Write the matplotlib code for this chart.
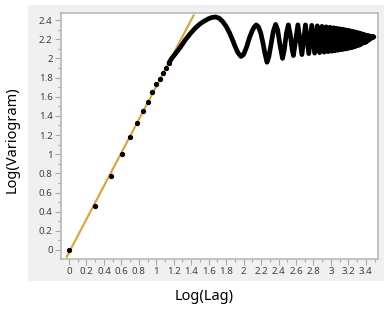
import numpy as np
import matplotlib.pyplot as plt
from matplotlib.patches import Rectangle
from matplotlib.ticker import MultipleLocator, FuncFormatter

plt.rcParams['font.family'] = ['Noto Sans', 'DejaVu Sans']

# first lags (1..14) shown as single dots
lags = [1, 2, 3, 4, 5, 6, 7, 8, 9, 10, 11, 12, 13, 14]
lag_logvar = [0.0, 0.46, 0.77, 1.0, 1.18, 1.33, 1.45, 1.55, 1.645, 1.73, 1.79,
              1.85, 1.905, 1.955]

# dense part of the log-variogram
curve_x = [1.146, 1.176, 1.22, 1.27, 1.33, 1.39, 1.45, 1.50, 1.55, 1.60, 1.64,
           1.68, 1.72, 1.76, 1.80, 1.84, 1.875, 1.905, 1.935, 1.97,
           2.00, 2.035, 2.065, 2.095, 2.12, 2.145, 2.17, 2.195, 2.22, 2.245,
           2.268, 2.29, 2.315, 2.34, 2.367, 2.39, 2.415, 2.446, 2.465, 2.49,
           2.513, 2.535, 2.555, 2.571,
           2.622, 2.668, 2.709, 2.747, 2.781, 2.814, 2.844, 2.872, 2.898,
           2.923, 2.946, 2.969, 2.990, 3.010, 3.029, 3.048, 3.065, 3.082,
           3.099, 3.115, 3.130, 3.145, 3.159, 3.173, 3.186, 3.199, 3.212,
           3.224, 3.236, 3.247, 3.259, 3.270, 3.280, 3.291, 3.301, 3.311,
           3.321, 3.330, 3.340, 3.349, 3.358, 3.366, 3.375, 3.384, 3.392,
           3.400, 3.408, 3.416, 3.423, 3.431, 3.438, 3.446, 3.453, 3.460,
           3.467, 3.474, 3.480, 3.487, 3.493]
curve_y = [1.955, 2.00, 2.05, 2.11, 2.19, 2.26, 2.32, 2.36, 2.39, 2.415, 2.428,
           2.432, 2.42, 2.385, 2.335, 2.265, 2.19, 2.12, 2.06, 2.02,
           2.04, 2.12, 2.21, 2.28, 2.325, 2.35, 2.33, 2.27, 2.17, 2.05,
           1.96, 2.02, 2.15, 2.28, 2.355, 2.30, 2.15, 2.00, 2.08, 2.26,
           2.35, 2.25, 2.10, 2.03,
           2.35, 2.04, 2.35, 2.05, 2.345, 2.055, 2.34, 2.06, 2.335,
           2.065, 2.33, 2.07, 2.325, 2.075, 2.32, 2.08, 2.315, 2.085,
           2.31, 2.09, 2.305, 2.095, 2.30, 2.10, 2.295, 2.105, 2.29,
           2.11, 2.285, 2.115, 2.28, 2.12, 2.275, 2.13, 2.27, 2.135,
           2.265, 2.14, 2.26, 2.15, 2.255, 2.16, 2.25, 2.165, 2.245,
           2.17, 2.24, 2.18, 2.237, 2.19, 2.235, 2.20, 2.232, 2.21,
           2.23, 2.215, 2.228, 2.22, 2.225]

# linear fit on the first lags
fit_slope = 1.734
fit_intercept = -0.025
fit_range = [-0.026, 1.427]

fig = plt.figure(figsize=(3.89, 3.12), dpi=100)
fig.patch.set_facecolor('white')
fig.add_artist(Rectangle((28/389, 1-281/312), (384-28)/389, (281-5)/312,
                         transform=fig.transFigure, facecolor='#f0f0f0',
                         edgecolor='none', zorder=-10))

ax = fig.add_axes([61/389, 1-259/312, (378-61)/389, (259-13)/312])
ax.set_facecolor('white')

fx = np.array(fit_range)
ax.plot(fx, fit_intercept + fit_slope*fx, color='#e0a033', lw=1.5, zorder=2)
ax.plot(np.log10(lags), lag_logvar, 'o', color='black', ms=2.8, zorder=3)
ax.plot(curve_x, curve_y, color='black', lw=3.4, solid_joinstyle='round',
        solid_capstyle='round', zorder=3)

ax.set_xlim(-0.092, 3.54)
ax.set_ylim(-0.094, 2.474)
ax.xaxis.set_major_locator(MultipleLocator(0.2))
ax.xaxis.set_minor_locator(MultipleLocator(0.1))
ax.yaxis.set_major_locator(MultipleLocator(0.2))
ax.yaxis.set_minor_locator(MultipleLocator(0.1))
fmt = FuncFormatter(lambda v, p: '%g' % round(v, 2))
ax.xaxis.set_major_formatter(fmt)
ax.yaxis.set_major_formatter(fmt)
ax.tick_params(which='major', length=4, width=0.8, color='#a8a8a8',
               labelsize=7, labelcolor='#404040', pad=2)
ax.tick_params(which='minor', length=2, width=0.8, color='#a8a8a8')
for s in ax.spines.values():
    s.set_color('#b8b8b8')
    s.set_linewidth(1.2)

fig.text(204/389, 1-297/312, 'Log(Lag)', ha='center', va='center', fontsize=10.5)
fig.text(12/389, 1-140/312, 'Log(Variogram)', ha='center', va='center',
         rotation=90, fontsize=10.5)

fig.savefig('out.png', dpi=100)
